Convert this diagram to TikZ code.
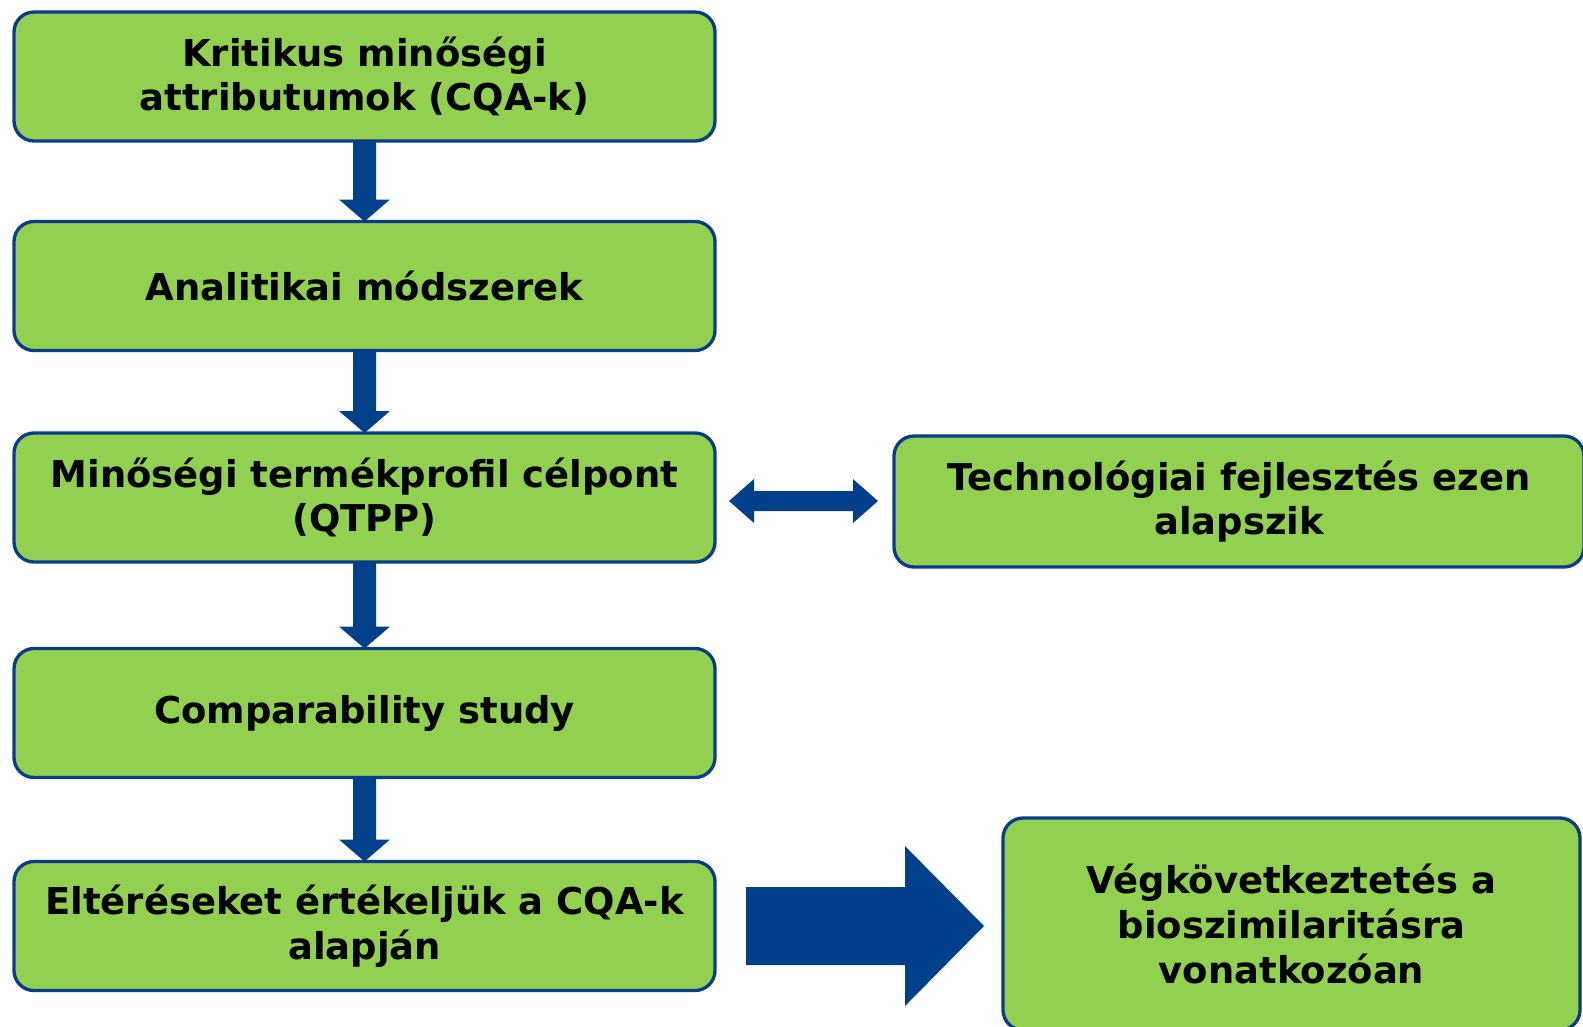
\documentclass[tikz,border=0pt]{standalone}
\usepackage{fontspec}
\setmainfont{DejaVu Sans}
\usetikzlibrary{calc}
\definecolor{boxgreen}{HTML}{92D050}
\definecolor{navy}{HTML}{00408A}
\definecolor{edgeblue}{HTML}{0A3C8A}
\begin{document}
\begin{tikzpicture}[x=0.75pt,y=-0.75pt,
  box/.style={draw=edgeblue, line width=2.5pt, fill=boxgreen, rounded corners=15pt,
    align=center, font=\bfseries\fontsize{27.7}{33.5}\selectfont, inner sep=0pt, outer sep=0pt},
  leftbox/.style={box, minimum width=525.75pt, minimum height=96.75pt},
  blockarrow/.style={fill=navy}]
\useasboundingbox (0,0) rectangle (1583,1026);
\clip (0,0) rectangle (1583,1026);
% nodes
\node[leftbox] (b1) at (364.5,76.5) {Kritikus minőségi\\attributumok (CQA-k)};
\node[leftbox] (b2) at (364.5,286) {Analitikai módszerek};
\node[leftbox] (b3) at (364.5,497.5) {Minőségi termékprofil célpont\\(QTPP)};
\node[leftbox] (b4) at (364.5,713) {Comparability study};
\node[leftbox] (b5) at (364.5,926) {Eltéréseket értékeljük a CQA-k\\alapján};
\node[box, minimum width=517.5pt, minimum height=98.25pt] (r1) at (1239,501.5) {Technológiai fejlesztés ezen\\alapszik};
\node[box, minimum width=432.75pt, minimum height=159pt] (r2) at (1291.5,924) {Végkövetkeztetés a\\bioszimilaritásra\\vonatkozóan};
% down arrows
\foreach \a/\b in {b1/b2,b2/b3,b3/b4,b4/b5}{
  \fill[blockarrow] ($(\a.south)+(-11.5,0)$) -- ($(\a.south)+(11.5,0)$)
    -- ($(\b.north)+(11.5,-22)$) -- ($(\b.north)+(25.5,-22)$) -- (\b.north)
    -- ($(\b.north)+(-25.5,-22)$) -- ($(\b.north)+(-11.5,-22)$) -- cycle;
}
% double arrow
\coordinate (dl) at ($(b3.east)+(14,3.5)$);
\coordinate (dr) at ($(r1.west)+(-16,-0.5)$);
\fill[blockarrow] (dl) -- ($(dl)+(25,-22)$) -- ($(dl)+(25,-10)$) -- ($(dr)+(-25,-10)$)
  -- ($(dr)+(-25,-22)$) -- (dr) -- ($(dr)+(-25,22)$) -- ($(dr)+(-25,10)$)
  -- ($(dl)+(25,10)$) -- ($(dl)+(25,22)$) -- cycle;
% big arrow
\coordinate (bs) at ($(b5.east)+(31,0)$);
\coordinate (bt) at ($(r2.west)+(-19,2)$);
\fill[blockarrow] ($(bs)+(0,-39)$) -- ($(bt)+(-79,-39)$) -- ($(bt)+(-79,-80)$) -- (bt)
  -- ($(bt)+(-79,80)$) -- ($(bt)+(-79,39)$) -- ($(bs)+(0,39)$) -- cycle;
\end{tikzpicture}
\end{document}
